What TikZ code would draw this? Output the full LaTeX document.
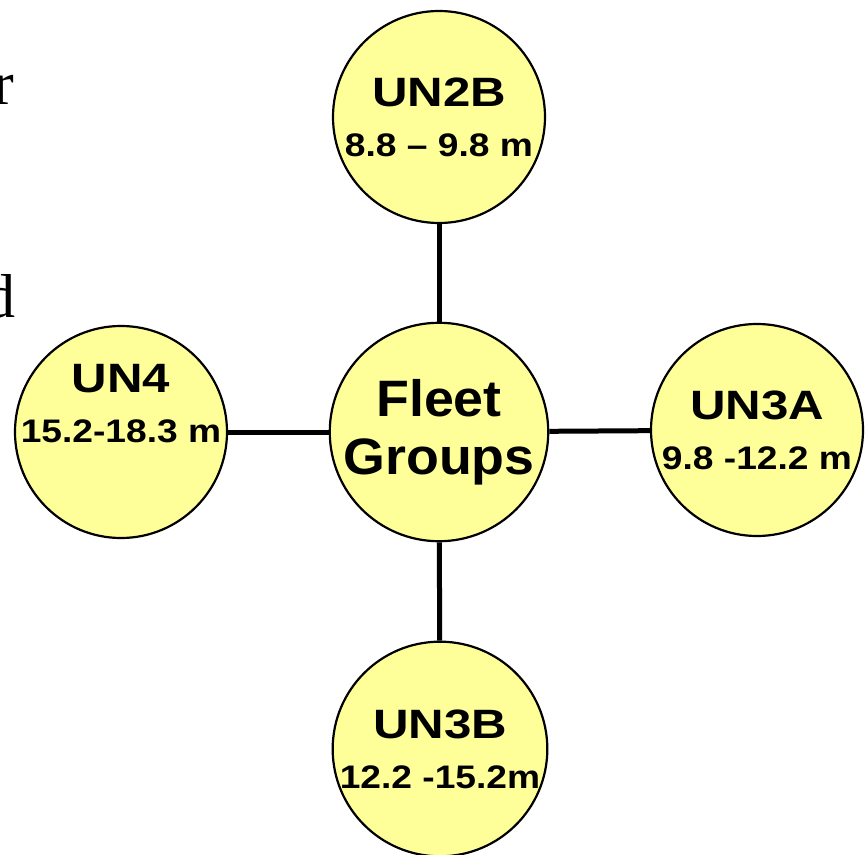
\documentclass[tikz,border=0pt]{standalone}
\usepackage{fontspec}
\setmainfont{Liberation Serif}
\newfontfamily\arialfont[Ligatures=TeX]{Liberation Sans}
\usepackage{graphicx}
\usepackage{tikz}
\usetikzlibrary{positioning}

% two-line label of a fleet unit: name, then length range
\newcommand{\unitlabel}[2]{{\fontsize{20.5}{25}\selectfont\scalebox{1.2}[1]{#1}}\\\scalebox{1.14}[1]{#2}}

\begin{document}
\begin{tikzpicture}[x=0.5pt, y=-0.5pt]
            \definecolor{unitYellow}{RGB}{255,255,153}
            % Set primary nodes
            \tikzset{
                unit/.style={
                        circle,
                        draw,
                        line width=1.1pt,
                        fill=unitYellow,
                        minimum size=106pt,
                        inner sep=0pt,
                        align=center,
                        font=\arialfont\bfseries\fontsize{16.3}{25}\selectfont
                    }
            }
            \tikzset{
                unitText/.style={
                        inner sep=0pt,
                        align=center,
                        font=\arialfont\bfseries\fontsize{16.3}{25}\selectfont
                    }
            }
            \tikzset{
                cutText/.style={
                        inner sep=0pt,
                        anchor=base east,
                        font=\fontsize{31}{36}\selectfont
                    }
            }
            % Configure connectors
            \tikzstyle{link} = [line width=2.5pt]
            \useasboundingbox (0,0) rectangle (866,855);
            % Placing nodes
            \node[cutText](cutR) at (15,105){r};
            \node[cutText](cutD) at (16,318){d};
            \node[unit, font=\arialfont\bfseries\fontsize{25.6}{29}\selectfont](fleet) at (439,432){\scalebox{1.05}[1]{Fleet}\\\scalebox{1.05}[1]{Groups}};
            \node[unit](un2b) at (439,117){\unitlabel{UN2B}{8.8 – 9.8 m}};
            \node[unit](un3a) at (757,430){\unitlabel{UN3A}{9.8 -12.2 m}};
            \node[unit](un3b) at (440,749){\unitlabel{UN3B}{12.2 -15.2m}};
            \node[unit](un4) at (121,432){};
            \node[unitText](un4Label) at ([yshift=14pt]un4.center){\unitlabel{UN4}{15.2-18.3 m}};
            % Draw connectors
            \draw[link](fleet) -- (un2b);
            \draw[link](fleet) -- (un3a);
            \draw[link](fleet) -- (un3b);
            \draw[link](fleet) -- (un4);

        \end{tikzpicture}
\end{document}
